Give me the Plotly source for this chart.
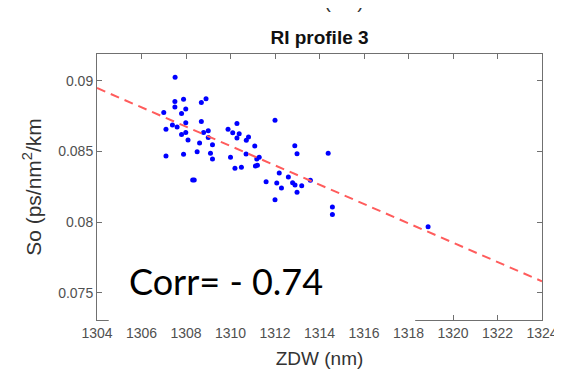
import plotly.graph_objects as go

# ZDW (nm) values of each fibre
zdw = [1307.51, 1307.00, 1307.10, 1307.10, 1307.50, 1307.50, 1307.89, 1307.99, 1307.80,
       1307.39, 1307.60, 1307.99, 1307.80, 1307.99, 1308.09, 1307.89, 1308.30, 1308.37,
       1308.69, 1308.90, 1308.69, 1308.79, 1309.00, 1309.00, 1308.61, 1309.19, 1308.50,
       1309.10, 1309.19, 1309.89, 1310.10, 1310.29, 1310.39, 1310.29, 1310.71, 1310.81,
       1310.00, 1310.20, 1310.49, 1311.09, 1310.70, 1311.18, 1311.29, 1311.12, 1311.21,
       1312.00, 1311.60, 1312.19, 1312.08, 1312.29, 1312.00, 1312.60, 1312.79, 1312.90,
       1312.99, 1313.20, 1312.89, 1312.99, 1313.59, 1314.39, 1314.58, 1314.58, 1318.88]
# Dispersion slope So (ps/nm^2/km)
so = [0.09026, 0.08777, 0.08657, 0.08468, 0.08854, 0.08816, 0.08871, 0.08802, 0.08770,
      0.08687, 0.08673, 0.08703, 0.08621, 0.08635, 0.08581, 0.08480, 0.08298, 0.08298,
      0.08847, 0.08873, 0.08713, 0.08635, 0.08647, 0.08600, 0.08560, 0.08548, 0.08498,
      0.08487, 0.08447, 0.08657, 0.08633, 0.08699, 0.08626, 0.08595, 0.08579, 0.08602,
      0.08459, 0.08381, 0.08388, 0.08539, 0.08482, 0.08447, 0.08459, 0.08397, 0.08402,
      0.08722, 0.08286, 0.08348, 0.08277, 0.08242, 0.08159, 0.08320, 0.08279, 0.08263,
      0.08211, 0.08258, 0.08541, 0.08484, 0.08296, 0.08487, 0.08106, 0.08053, 0.07966]

# Linear fit line endpoints
fit_x = [1304, 1324]
fit_y = [0.0895, 0.0758]

x_ticks = list(range(1304, 1325, 2))
y_ticks = [0.075, 0.08, 0.085, 0.09]
y_ticktext = ["0.075", "0.08", "0.085", "0.09"]

title_text = "<b>RI profile 3</b>"
x_title = "ZDW (nm)"
y_title = "So (ps/nm<sup>2</sup>/km"
corr_text = "Corr= - 0.74"

fig = go.Figure()
fig.add_trace(go.Scatter(x=zdw, y=so, mode="markers",
                         marker=dict(color="#0000ff", size=5, line=dict(width=0)),
                         showlegend=False))
fig.add_trace(go.Scatter(x=fit_x, y=fit_y, mode="lines",
                         line=dict(color="#ff5c5c", width=2, dash="9px,6px"),
                         showlegend=False))

axis_common = dict(showline=True, linecolor="#707070", linewidth=1, mirror="ticks",
                   ticks="inside", ticklen=5, tickcolor="#707070", showgrid=False,
                   zeroline=False,
                   tickfont=dict(family="Liberation Sans, Arial", size=14, color="#505050"))

fig.update_layout(
    width=562, height=370,
    margin=dict(l=89, r=17, t=46, b=57.5),
    paper_bgcolor="white", plot_bgcolor="white",
    title=dict(text=title_text, x=0.5, xref="paper", y=1 - 29 / 370, yanchor="middle",
               font=dict(family="Liberation Sans, Arial", size=19, color="#111111")),
    xaxis=dict(range=[1304, 1324], tickvals=x_ticks,
               title=dict(text=x_title, standoff=11,
                          font=dict(family="Liberation Sans, Arial", size=19, color="#333333")),
               **axis_common),
    yaxis=dict(range=[0.07306, 0.09191], tickvals=y_ticks, ticktext=y_ticktext,
               title=dict(text=y_title, standoff=10,
                          font=dict(family="Liberation Sans, Arial", size=21, color="#333333")),
               **axis_common),
    shapes=[dict(type="rect", xref="paper", yref="paper", x0=0.0263, x1=0.715,
                 y0=-0.028, y1=0.2155, fillcolor="white", line=dict(width=0), layer="above")],
    annotations=[
        dict(text=corr_text, xref="paper", yref="paper", x=0.291, y=0.146,
             xanchor="center", yanchor="middle", showarrow=False,
             font=dict(family="Lato, Noto Sans", size=36, color="black")),
        dict(text=x_title, xref="paper", yref="paper", x=0.5, y=1.149,
             xanchor="center", yanchor="bottom", showarrow=False,
             font=dict(family="Liberation Sans, Arial", size=19, color="#333333")),
    ],
)

fig.write_html("out.html")
